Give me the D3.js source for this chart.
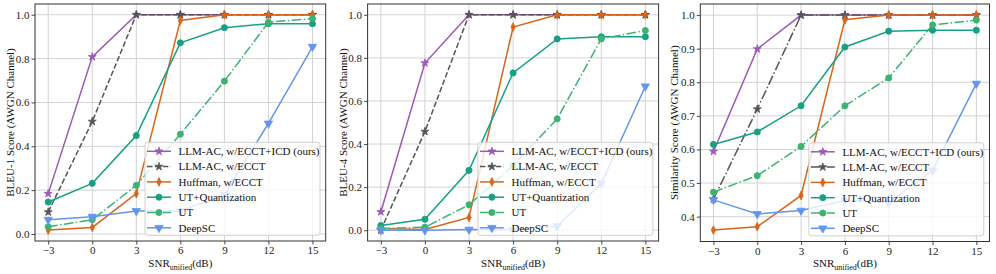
<!DOCTYPE html>
<html>
<head>
<meta charset="utf-8">
<script src="https://cdn.jsdelivr.net/npm/d3@7"></script>
<style>
  body { margin: 0; background: #fff; }
  svg { display: block; font-family: "Liberation Serif", "Times New Roman", serif; }
</style>
</head>
<body>
<svg id="chart" width="996" height="274"></svg>
<script>
// ---------------- data ----------------
const snr = [-3, 0, 3, 6, 9, 12, 15];
const seriesNames = ["LLM-AC, w/ECCT+ICD (ours)", "LLM-AC, w/ECCT", "Huffman, w/ECCT", "UT+Quantization", "UT", "DeepSC"];

// BLEU-1
const bleu1_icd     = [0.184, 0.808, 1.0, 1.0, 1.0, 1.0, 1.0];
const bleu1_ecct    = [0.100, 0.513, 1.0, 1.0, 1.0, 1.0, 1.0];
const bleu1_huffman = [0.018, 0.030, 0.184, 0.974, 1.0, 1.0, 1.0];
const bleu1_utq     = [0.146, 0.231, 0.449, 0.872, 0.941, 0.959, 0.959];
const bleu1_ut      = [0.033, 0.065, 0.222, 0.455, 0.697, 0.966, 0.982];
const bleu1_deepsc  = [0.065, 0.079, 0.105, 0.105, 0.180, 0.504, 0.854];

// BLEU-4
const bleu4_icd     = [0.085, 0.776, 1.0, 1.0, 1.0, 1.0, 1.0];
const bleu4_ecct    = [0.000, 0.458, 1.0, 1.0, 1.0, 1.0, 1.0];
const bleu4_huffman = [0.008, 0.003, 0.059, 0.943, 1.0, 1.0, 1.0];
const bleu4_utq     = [0.022, 0.051, 0.278, 0.730, 0.888, 0.898, 0.898];
const bleu4_ut      = [0.008, 0.014, 0.118, 0.300, 0.517, 0.888, 0.927];
const bleu4_deepsc  = [0.000, 0.000, 0.003, 0.003, 0.019, 0.217, 0.668];

// Similarity
const sim_icd     = [0.594, 0.899, 1.0, 1.0, 1.0, 1.0, 1.0];
const sim_ecct    = [0.452, 0.720, 1.0, 1.0, 1.0, 1.0, 1.0];
const sim_huffman = [0.360, 0.370, 0.463, 0.986, 1.0, 1.0, 1.0];
const sim_utq     = [0.615, 0.652, 0.730, 0.905, 0.952, 0.955, 0.955];
const sim_ut      = [0.473, 0.522, 0.609, 0.730, 0.813, 0.971, 0.985];
const sim_deepsc  = [0.450, 0.408, 0.418, 0.448, 0.442, 0.537, 0.796];

const xTicks = [-3, 0, 3, 6, 9, 12, 15];
const yTicksBleu = [0.0, 0.2, 0.4, 0.6, 0.8, 1.0];
const yTicksSim = [0.4, 0.5, 0.6, 0.7, 0.8, 0.9, 1.0];
const yLabels = ["BLEU-1 Score (AWGN Channel)", "BLEU-4 Score (AWGN Channel)", "Similarity Score (AWGN Channel)"];

// ---------------- styles ----------------
const colors = ["#9b59b6", "#555555", "#d9651a", "#16a085", "#3cb371", "#6495ed"];
const markers = ["star", "star", "thin_diamond", "circle", "circle", "tri_down"];
const dashSolid = null, dashDash = "5.5,2.4", dashDot = "9.6,2.4,1.5,2.4";

const panels = [
  { left: 35, right: 325.7, top: 4, bottom: 241, ydom: [-0.032, 1.049], yticks: yTicksBleu, fmt: d3.format(".1f"),
    ylabel: yLabels[0], labelX: 10,
    data: [bleu1_icd, bleu1_ecct, bleu1_huffman, bleu1_utq, bleu1_ut, bleu1_deepsc],
    dashes: [dashSolid, dashDash, dashSolid, dashSolid, dashDot, dashSolid] },
  { left: 367.6, right: 658.6, top: 4, bottom: 241, ydom: [-0.05, 1.05], yticks: yTicksBleu, fmt: d3.format(".1f"),
    ylabel: yLabels[1], labelX: 343,
    data: [bleu4_icd, bleu4_ecct, bleu4_huffman, bleu4_utq, bleu4_ut, bleu4_deepsc],
    dashes: [dashSolid, dashDash, dashSolid, dashSolid, dashDot, dashSolid] },
  { left: 700.3, right: 989.5, top: 4, bottom: 241.5, ydom: [0.326, 1.033], yticks: yTicksSim, fmt: d3.format(".1f"),
    ylabel: yLabels[2], labelX: 674,
    data: [sim_icd, sim_ecct, sim_huffman, sim_utq, sim_ut, sim_deepsc],
    dashes: [dashSolid, dashDot, dashSolid, dashSolid, dashDot, dashSolid] }
];

const svg = d3.select("#chart");
const FS = 11;

function markerPath(type) {
  if (type === "star") return d3.symbol(d3.symbolStar, 20)();
  if (type === "circle") return d3.symbol(d3.symbolCircle, 30)();
  if (type === "tri_down") return d3.symbol(d3.symbolTriangle, 30)();
  if (type === "thin_diamond") return "M0,-4.4L2.1,0L0,4.4L-2.1,0Z";
  return d3.symbol(d3.symbolCircle, 30)();
}
function markerTransform(type, x, y) {
  if (type === "tri_down") return `translate(${x},${y}) rotate(180)`;
  return `translate(${x},${y})`;
}

panels.forEach((p, pi) => {
  const x = d3.scaleLinear().domain([-3.9, 15.9]).range([p.left, p.right]);
  const y = d3.scaleLinear().domain(p.ydom).range([p.bottom, p.top]);
  const g = svg.append("g");

  // grid
  g.append("g").selectAll("line").data(xTicks).join("line")
    .attr("x1", d => x(d)).attr("x2", d => x(d))
    .attr("y1", p.top).attr("y2", p.bottom)
    .attr("stroke", "#d3d3d3").attr("stroke-width", 1);
  g.append("g").selectAll("line").data(p.yticks).join("line")
    .attr("x1", p.left).attr("x2", p.right)
    .attr("y1", d => y(d)).attr("y2", d => y(d))
    .attr("stroke", "#d3d3d3").attr("stroke-width", 1);

  // axes
  const xAxis = d3.axisBottom(x).tickValues(xTicks).tickSize(3.5).tickPadding(2)
    .tickFormat(d => d < 0 ? "\u2212" + Math.abs(d) : String(d));
  const yAxis = d3.axisLeft(y).tickValues(p.yticks).tickSize(3.5).tickPadding(2).tickFormat(p.fmt);
  const gx = g.append("g").attr("transform", `translate(0,${p.bottom})`).call(xAxis);
  const gy = g.append("g").attr("transform", `translate(${p.left},0)`).call(yAxis);
  [gx, gy].forEach(a => {
    a.select(".domain").remove();
    a.selectAll(".tick line").attr("stroke", "#333").attr("stroke-width", 0.9);
    a.selectAll(".tick text").attr("font-size", FS).attr("fill", "#222")
      .attr("font-family", "Liberation Serif, Times New Roman, serif");
  });

  // series
  p.data.forEach((vals, si) => {
    const pts = snr.map((s, i) => [s, vals[i]]);
    const line = d3.line().x(d => x(d[0])).y(d => y(d[1]));
    g.append("path").datum(pts).attr("d", line)
      .attr("fill", "none").attr("stroke", colors[si]).attr("stroke-width", 1.5)
      .attr("stroke-dasharray", p.dashes[si]);
    g.append("g").selectAll("path").data(pts).join("path")
      .attr("d", markerPath(markers[si]))
      .attr("transform", d => markerTransform(markers[si], x(d[0]), y(d[1])))
      .attr("fill", colors[si]).attr("stroke", colors[si]).attr("stroke-width", 0.8);
  });

  // frame
  g.append("rect").attr("x", p.left).attr("y", p.top)
    .attr("width", p.right - p.left).attr("height", p.bottom - p.top)
    .attr("fill", "none").attr("stroke", "#333").attr("stroke-width", 1);

  // legend
  const lw = 175, lh = 93;
  const lx = p.right - 5.7 - lw, ly = p.bottom - 5.7 - lh;
  const lg = g.append("g");
  lg.append("rect").attr("x", lx).attr("y", ly).attr("width", lw).attr("height", lh)
    .attr("rx", 2.5).attr("fill", "white").attr("fill-opacity", 0.8)
    .attr("stroke", "#d0d0d0").attr("stroke-width", 1);
  seriesNames.forEach((name, si) => {
    const cy = ly + 9 + si * 15.3;
    lg.append("line").attr("x1", lx + 2).attr("x2", lx + 26).attr("y1", cy).attr("y2", cy)
      .attr("stroke", colors[si]).attr("stroke-width", 1.5).attr("stroke-dasharray", p.dashes[si]);
    lg.append("path").attr("d", markerPath(markers[si]))
      .attr("transform", markerTransform(markers[si], lx + 14, cy))
      .attr("fill", colors[si]).attr("stroke", colors[si]).attr("stroke-width", 0.8);
    lg.append("text").attr("x", lx + 33.6).attr("y", cy).attr("dy", "0.35em")
      .attr("font-size", FS).attr("fill", "#111").text(name);
  });

  // labels
  const cx = (p.left + p.right) / 2;
  const xl = g.append("text").attr("x", cx).attr("y", 267).attr("text-anchor", "middle")
    .attr("font-size", FS).attr("fill", "#111");
  xl.append("tspan").text("SNR");
  xl.append("tspan").attr("font-size", FS * 0.72).attr("dy", 2.5).text("unified");
  xl.append("tspan").attr("dy", -2.5).text("(dB)");

  g.append("text").attr("transform", `translate(${p.labelX + 3.5},${(p.top + p.bottom) / 2}) rotate(-90)`)
    .attr("text-anchor", "middle").attr("font-size", FS).attr("fill", "#111").text(p.ylabel);
});
</script>
</body>
</html>
